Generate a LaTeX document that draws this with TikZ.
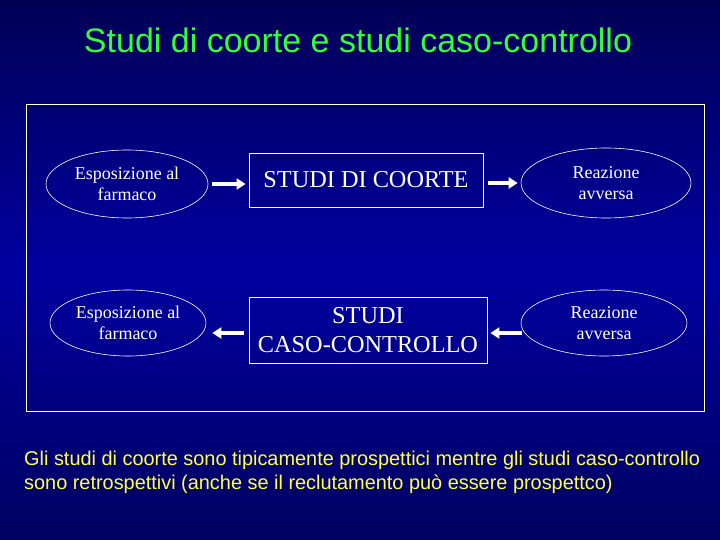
\documentclass[tikz,border=0pt]{standalone}
\usepackage{fontspec}
\setmainfont{Liberation Serif}
\newfontfamily\titlefont{Liberation Sans}
\newfontfamily\notefont{Liberation Sans}
\usetikzlibrary{shapes.geometric,arrows.meta}
\definecolor{bgtop}{HTML}{000055}
\definecolor{bgmid}{HTML}{0000A0}
\definecolor{bgbot}{HTML}{000060}
\definecolor{titlegreen}{HTML}{33FF33}
\definecolor{noteyellow}{HTML}{FFFF44}
\tikzset{
  oval/.style={draw=white, line width=0.6pt, ellipse, text=white, align=center, font=\fontsize{18}{21}\selectfont},
  studybox/.style={draw=white, line width=0.8pt, text=white, align=center, font=\fontsize{24.3}{29}\selectfont},
  bigarrow/.style={draw=white, line width=3.5pt, -{Triangle[length=9pt,width=11pt]}},
}
\begin{document}
\begin{tikzpicture}[x=1pt,y=-1pt]
\useasboundingbox (0,0) rectangle (720,540);
\shade[top color=bgtop, bottom color=bgmid] (0,0) rectangle (720,270);
\shade[top color=bgmid, bottom color=bgbot] (0,270) rectangle (720,540);
\node[text=titlegreen, font=\titlefont\fontsize{34}{38}\selectfont] (title) at (358,40) {Studi di coorte e studi caso-controllo};
\node[draw=white, line width=1pt, minimum width=678pt, minimum height=306pt, inner sep=0pt] (frame) at (365,258) {};
\node[oval, minimum width=162pt, minimum height=68pt, inner sep=0pt] (e1) at (127,184) {Esposizione al\\farmaco};
\node[studybox, minimum width=234pt, minimum height=54pt, inner sep=0pt] (b1) at (366,180) {STUDI DI COORTE};
\node[oval, minimum width=170pt, minimum height=70pt, inner sep=0pt] (e2) at (606,183) {Reazione\\avversa};
\node[oval, minimum width=156pt, minimum height=66pt, inner sep=0pt] (e3) at (128,323) {Esposizione al\\farmaco};
\node[studybox, minimum width=238pt, minimum height=66pt, inner sep=0pt] (b2) at (368,330) {STUDI\\CASO-CONTROLLO};
\node[oval, minimum width=166pt, minimum height=66pt, inner sep=0pt] (e4) at (604,323) {Reazione\\avversa};
\draw[bigarrow] ([xshift=4pt]e1.east |- 0,184) -- ([xshift=-3pt]b1.west |- 0,184);
\draw[bigarrow] ([xshift=5pt]b1.east |- 0,183) -- ([xshift=-3pt]e2.west |- 0,183);
\draw[bigarrow] ([xshift=-5pt]b2.west |- 0,333) -- ([xshift=6pt]e3.east |- 0,333);
\draw[bigarrow] ([xshift=1pt]e4.west |- 0,333) -- ([xshift=3pt]b2.east |- 0,333);
\node[text=noteyellow, anchor=north west, align=left, inner sep=0pt, font=\notefont\fontsize{19.9}{24}\selectfont] (note) at (24,451) {Gli studi di coorte sono tipicamente prospettici mentre gli studi caso-controllo\\sono retrospettivi (anche se il reclutamento può essere prospettco)};
\end{tikzpicture}
\end{document}
